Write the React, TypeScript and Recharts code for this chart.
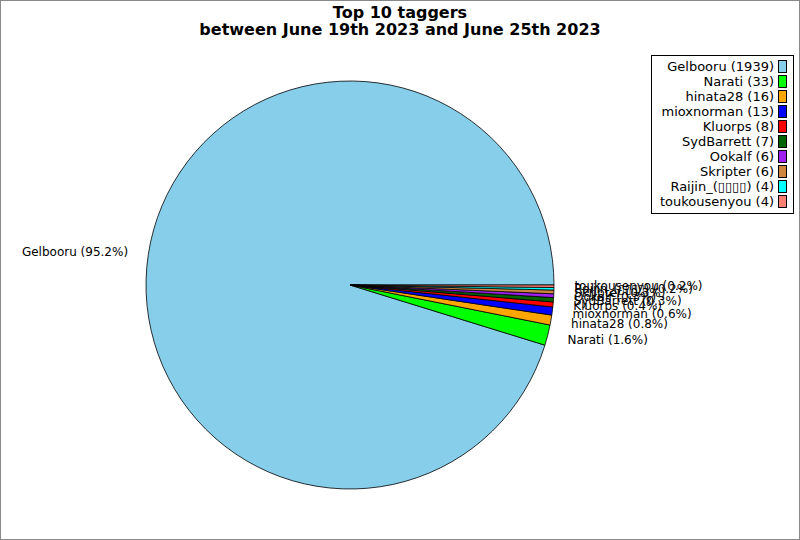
import React from 'react';
import { PieChart, Pie, Cell, Legend } from 'recharts';

// top 10 taggers, counts as shown in the legend
const TAGGERS = [
  'Gelbooru',
  'Narati',
  'hinata28',
  'mioxnorman',
  'Kluorps',
  'SydBarrett',
  'Ookalf',
  'Skripter',
  'Raijin_(\u25AF\u25AF\u25AF\u25AF)',
  'toukousenyou',
];
const COUNTS = [1939, 33, 16, 13, 8, 7, 6, 6, 4, 4];
const COLORS = [
  '#87ceeb',
  '#00ff00',
  '#ffa500',
  '#0000ff',
  '#ff0000',
  '#006400',
  '#a020f0',
  '#cd853f',
  '#00ffff',
  '#fa8072',
];

const FONT = '"DejaVu Sans", sans-serif';
const RADIAN = Math.PI / 180;

const chartData = TAGGERS.map((name, i) => ({ name, value: COUNTS[i], color: COLORS[i] }));

// matplotlib style label: 1.1 * radius out along the mid angle
const renderLabel = (props: any) => {
  const { cx, cy, midAngle, outerRadius, percent, name } = props;
  const r = outerRadius * 1.1;
  const x = cx + r * Math.cos(-midAngle * RADIAN);
  const y = cy + r * Math.sin(-midAngle * RADIAN);
  return (
    <text
      x={x}
      y={y}
      textAnchor={x > cx ? 'start' : 'end'}
      dominantBaseline="central"
      fontSize={12}
      fontFamily={FONT}
      fill="#000"
    >
      {`${name} (${(percent * 100).toFixed(1)}%)`}
    </text>
  );
};

const LegendBox = () => (
  <div
    style={{
      border: '1px solid #000',
      background: '#fff',
      padding: '3px 6px 4px 4px',
      fontFamily: FONT,
      fontSize: 13,
      boxSizing: 'border-box',
      width: 143,
    }}
  >
    {chartData.map((d) => (
      <div
        key={d.name}
        style={{ display: 'flex', justifyContent: 'flex-end', alignItems: 'center', height: 15, whiteSpace: 'nowrap' }}
      >
        <span>{`${d.name} (${d.value})`}</span>
        <span
          style={{
            display: 'inline-block',
            width: 7,
            height: 11,
            marginLeft: 4,
            background: d.color,
            border: '1px solid #000',
            flexShrink: 0,
          }}
        />
      </div>
    ))}
  </div>
);

export default function App() {
  return (
    <div
      style={{
        position: 'fixed',
        left: 0,
        top: 0,
        width: 800,
        height: 540,
        border: '1px solid #888',
        boxSizing: 'border-box',
        background: '#fff',
        overflow: 'hidden',
      }}
    >
      <div
        style={{
          position: 'absolute',
          left: -1,
          top: 3,
          width: 800,
          textAlign: 'center',
          fontFamily: FONT,
          fontWeight: 'bold',
          fontSize: 16,
          lineHeight: '17px',
        }}
      >
        Top 10 taggers
        <br />
        between June 19th 2023 and June 25th 2023
      </div>
      <div style={{ position: 'absolute', left: -1, top: -1 }}>
        <PieChart width={800} height={540} margin={{ top: 0, right: 0, bottom: 0, left: 0 }}>
          <Pie
            data={chartData}
            dataKey="value"
            nameKey="name"
            cx={350}
            cy={285}
            outerRadius={204}
            startAngle={0}
            endAngle={360}
            stroke="#000"
            strokeWidth={0.8}
            label={renderLabel}
            labelLine={false}
            isAnimationActive={false}
          >
            {chartData.map((d, i) => (
              <Cell key={`cell-${i}`} fill={d.color} />
            ))}
          </Pie>
          <Legend
            content={() => <LegendBox />}
            wrapperStyle={{ position: 'absolute', left: 651, top: 55, width: 143, bottom: 'auto' }}
          />
        </PieChart>
      </div>
    </div>
  );
}
